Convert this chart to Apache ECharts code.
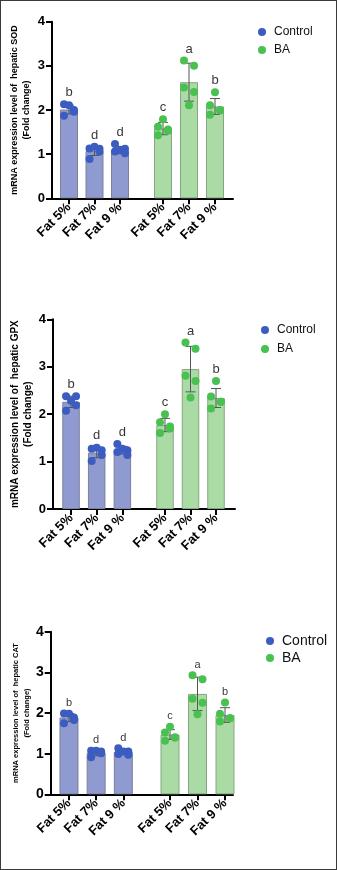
<!DOCTYPE html>
<html><head><meta charset="utf-8">
<script src="https://cdn.jsdelivr.net/npm/echarts@6/dist/echarts.min.js"></script>
<style>
html,body{margin:0;padding:0;background:#fff;}
#c{position:absolute;left:0;top:0;width:337px;height:870px;}
#f{position:absolute;left:0;top:0;width:337px;height:870px;box-sizing:border-box;border:1px solid #3a3a3a;pointer-events:none;}
</style>
</head><body><div id="c"></div><div id="f"></div>
<script>
// ---------- data ----------
const CATEGORIES = ['Fat 5%', 'Fat 7%', 'Fat 9 %'];
const GROUPS = ['Control', 'BA'];
const LETTERS_CONTROL = ['b', 'd', 'd'];
const LETTERS_BA = ['c', 'a', 'b'];
const Y_TITLES = [
  'mRNA expression level of  hepatic SOD\n(Fold change)',
  'mRNA expression level of  hepatic GPX\n(Fold change)',
  'mRNA expression level of  hepatic CAT\n(Fold change)'
];

const SOD_CONTROL_MEAN = [2.01, 1.07, 1.09];
const SOD_CONTROL_SD = [0.10, 0.10, 0.08];
const SOD_CONTROL_PTS = [[2.13, 2.00, 1.87, 1.96, 2.11], [1.13, 1.12, 0.89, 1.06, 1.17], [1.23, 1.12, 1.06, 1.02, 1.10]];
const SOD_BA_MEAN = [1.58, 2.63, 2.08];
const SOD_BA_SD = [0.14, 0.43, 0.18];
const SOD_BA_PTS = [[1.62, 1.53, 1.43, 1.56, 1.79], [3.12, 3.00, 2.51, 2.41, 2.11], [2.11, 1.99, 1.89, 2.00, 2.40]];

const GPX_CONTROL_MEAN = [2.26, 1.19, 1.24];
const GPX_CONTROL_SD = [0.12, 0.11, 0.08];
const GPX_CONTROL_PTS = [[2.38, 2.38, 2.07, 2.19, 2.28], [1.27, 1.24, 1.01, 1.14, 1.29], [1.37, 1.24, 1.20, 1.14, 1.27]];
const GPX_BA_MEAN = [1.77, 2.95, 2.34];
const GPX_BA_SD = [0.14, 0.48, 0.20];
const GPX_BA_PTS = [[1.83, 1.70, 1.60, 1.74, 2.00], [3.51, 3.38, 2.81, 2.70, 2.35], [2.37, 2.26, 2.12, 2.26, 2.70]];

const CAT_CONTROL_MEAN = [1.89, 1.02, 1.04];
const CAT_CONTROL_SD = [0.10, 0.07, 0.06];
const CAT_CONTROL_PTS = [[1.99, 1.89, 1.75, 1.83, 1.98], [1.07, 1.05, 0.91, 1.01, 1.07], [1.13, 1.05, 0.99, 0.97, 1.05]];
const CAT_BA_MEAN = [1.47, 2.47, 1.95];
const CAT_BA_SD = [0.12, 0.41, 0.18];
const CAT_BA_PTS = [[1.52, 1.40, 1.32, 1.40, 1.66], [2.93, 2.83, 2.35, 2.25, 1.97], [1.98, 1.87, 1.79, 1.87, 2.26]];

// ---------- style / layout ----------
const JITTER = [-5, 5, -5, 5, 0];
const C_BAR = '#8e9ad0', C_BAR_B = '#7c8199', C_DOT = '#3b5cc0';
const B_BAR = '#abdba5', B_BAR_B = '#86a683', B_DOT = '#48c150';
const FONT = '"Liberation Sans", Arial, sans-serif';

const panels = [
  {title: Y_TITLES[0], cm: SOD_CONTROL_MEAN, cs: SOD_CONTROL_SD, cp: SOD_CONTROL_PTS, bm: SOD_BA_MEAN, bs: SOD_BA_SD, bp: SOD_BA_PTS,
   ax: 52, top: 21.7, bottom: 198.3, xEnd: 233, cL: 56.25, cW: 76.5, bL: 150, bW: 78, barW: 18,
   lgL: 253, lgT: 21, lgF: 12, lgGap: 6, nF: 9, nLH: 12, nGap: 19, tF: 13, xF: 13, letF: 13},
  {title: Y_TITLES[1], cm: GPX_CONTROL_MEAN, cs: GPX_CONTROL_SD, cp: GPX_CONTROL_PTS, bm: GPX_BA_MEAN, bs: GPX_BA_SD, bp: GPX_BA_PTS,
   ax: 53, top: 319.3, bottom: 509, xEnd: 235, cL: 58.2, cW: 77, bL: 152.25, bW: 76.5, barW: 17.5,
   lgL: 256, lgT: 319, lgF: 12, lgGap: 7, nF: 10, nLH: 13, nGap: 18.5, tF: 13, xF: 13, letF: 13},
  {title: Y_TITLES[2], cm: CAT_CONTROL_MEAN, cs: CAT_CONTROL_SD, cp: CAT_CONTROL_PTS, bm: CAT_BA_MEAN, bs: CAT_BA_SD, bp: CAT_BA_PTS,
   ax: 50.7, top: 631.7, bottom: 794.3, xEnd: 233, cL: 55.4, cW: 81.5, bL: 156.25, bW: 82.5, barW: 19,
   lgL: 261, lgT: 629, lgF: 14, lgGap: 3, nF: 7.5, nLH: 11, nGap: 18, tF: 14, xF: 13, letF: 11}
];

const grid = [], xAxis = [], yAxis = [], series = [], legend = [];

function errSeries(xi, mean, sd) {
  return {
    type: 'custom', xAxisIndex: xi, yAxisIndex: xi, z: 3, silent: true,
    data: mean.map((m, i) => [i, m - sd[i], m + sd[i]]),
    renderItem: (params, api) => {
      const lo = api.coord([api.value(0), api.value(1)]);
      const hi = api.coord([api.value(0), api.value(2)]);
      const w = 5, st = {stroke: '#555', lineWidth: 1};
      return {type: 'group', children: [
        {type: 'line', shape: {x1: hi[0], y1: hi[1], x2: lo[0], y2: lo[1]}, style: st},
        {type: 'line', shape: {x1: hi[0] - w, y1: hi[1], x2: hi[0] + w, y2: hi[1]}, style: st},
        {type: 'line', shape: {x1: lo[0] - w, y1: lo[1], x2: lo[0] + w, y2: lo[1]}, style: st}
      ]};
    }
  };
}

panels.forEach((p, k) => {
  const h = p.bottom - p.top;
  const base = grid.length;
  grid.push({left: p.ax, top: p.top, width: p.xEnd - p.ax, height: h});
  xAxis.push({type: 'value', gridIndex: base, min: 0, max: 1, axisLine: {show: true, lineStyle: {color: '#000', width: 2}},
    axisTick: {show: false}, axisLabel: {show: false}, splitLine: {show: false}});
  yAxis.push({type: 'value', gridIndex: base, min: 0, max: 4, interval: 1,
    axisLine: {show: true, lineStyle: {color: '#000', width: 2}},
    axisTick: {show: true, length: 6, lineStyle: {color: '#000', width: 2}},
    axisLabel: {fontSize: p.tF, fontWeight: 'bold', color: '#000', margin: 7, fontFamily: FONT},
    splitLine: {show: false},
    name: p.title, nameLocation: 'middle', nameGap: p.nGap, nameMoveOverlap: false,
    nameTextStyle: {fontSize: p.nF, fontWeight: 'bold', color: '#000', lineHeight: p.nLH, fontFamily: FONT}});
  [[p.cL, p.cW, p.cm, p.cs, p.cp, C_BAR, C_BAR_B, C_DOT, GROUPS[0], LETTERS_CONTROL],
   [p.bL, p.bW, p.bm, p.bs, p.bp, B_BAR, B_BAR_B, B_DOT, GROUPS[1], LETTERS_BA]].forEach((g, j) => {
    const gi = grid.length;
    grid.push({left: g[0], top: p.top, width: g[1], height: h});
    xAxis.push({type: 'category', gridIndex: gi, data: CATEGORIES,
      axisLine: {show: false},
      axisTick: {show: true, alignWithLabel: true, length: 6, lineStyle: {color: '#000', width: 2}},
      axisLabel: {interval: 0, rotate: 45, fontSize: p.xF, fontWeight: 'bold', color: '#000', margin: 7, fontFamily: FONT}});
    yAxis.push({type: 'value', gridIndex: gi, min: 0, max: 4, interval: 1, show: false});
    series.push({type: 'bar', name: g[8] + ' mean', xAxisIndex: gi, yAxisIndex: gi, data: g[2], barWidth: p.barW, z: 2, silent: true,
      itemStyle: {color: g[5], borderColor: g[6], borderWidth: 1}});
    series.push(errSeries(gi, g[2], g[3]));
    series.push({type: 'scatter', name: g[8], xAxisIndex: gi, yAxisIndex: gi, symbolSize: 8, z: 4, silent: true,
      itemStyle: {color: g[7], opacity: 1},
      data: g[4].flatMap((arr, i) => arr.map((v, q) => ({value: [i, v], symbolOffset: [JITTER[q], 0]})))});
    series.push({type: 'scatter', name: 'letters' + gi, xAxisIndex: gi, yAxisIndex: gi, symbolSize: 8, z: 5, silent: true,
      itemStyle: {color: 'rgba(0,0,0,0)'},
      data: g[4].map((arr, i) => ({value: [i, Math.max(...arr, g[2][i] + g[3][i])],
        label: {show: true, formatter: g[9][i], position: 'top', distance: 1, fontSize: p.letF, color: '#000', fontFamily: FONT}}))});
  });
  legend.push({orient: 'vertical', left: p.lgL, top: p.lgT, itemWidth: 14, itemHeight: 8, itemGap: p.lgGap, selectedMode: false,
    data: [{name: GROUPS[0], icon: 'circle'}, {name: GROUPS[1], icon: 'circle'}],
    textStyle: {fontSize: p.lgF, color: '#111', fontFamily: FONT}});
});

const chart = echarts.init(document.getElementById('c'), null, {renderer: 'canvas'});
chart.setOption({animation: false, backgroundColor: '#fff', textStyle: {fontFamily: FONT},
  grid, xAxis, yAxis, series, legend});
</script>
</body></html>
